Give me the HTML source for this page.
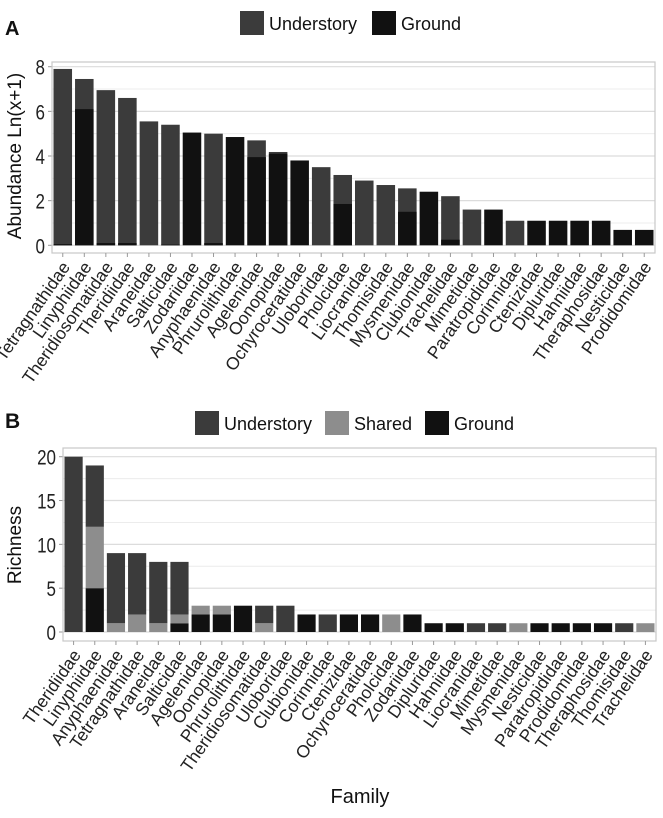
<!DOCTYPE html>
<html><head><meta charset="utf-8"><style>
body{margin:0;background:#fff;}
svg{display:block;font-family:"Liberation Sans",Arial,sans-serif;}
</style></head><body>
<svg id="chart" width="663" height="818" viewBox="0 0 663 818"></svg>
<script>
// Panel A data
const familiesA = ["Tetragnathidae","Linyphiidae","Theridiosomatidae","Theridiidae","Araneidae","Salticidae","Zodariidae","Anyphaenidae","Phrurolithidae","Agelenidae","Oonopidae","Ochyroceratidae","Uloboridae","Pholcidae","Liocranidae","Thomisidae","Mysmenidae","Clubionidae","Trachelidae","Mimetidae","Paratropididae","Corinnidae","Ctenizidae","Dipluridae","Hahniidae","Theraphosidae","Nesticidae","Prodidomidae"];
const understoryA = [7.9,7.45,6.95,6.6,5.55,5.4,0,5.0,0,4.7,4.18,0,3.5,3.15,2.9,2.7,2.55,0,2.2,1.6,0,1.1,0,0,0,0,0,0];
const groundA = [0.05,6.1,0.1,0.1,0,0.03,5.05,0.1,4.85,3.95,4.1,3.8,0,1.85,0,0,1.5,2.4,0.25,0,1.6,0,1.1,1.1,1.1,1.1,0.69,0.69];
const ticksA = [0,2,4,6,8];
// Panel B data
const familiesB = ["Theridiidae","Linyphiidae","Anyphaenidae","Tetragnathidae","Araneidae","Salticidae","Agelenidae","Oonopidae","Phrurolithidae","Theridiosomatidae","Uloboridae","Clubionidae","Corinnidae","Ctenizidae","Ochyroceratidae","Pholcidae","Zodariidae","Dipluridae","Hahniidae","Liocranidae","Mimetidae","Mysmenidae","Nesticidae","Paratropididae","Prodidomidae","Theraphosidae","Thomisidae","Trachelidae"];
const groundB = [0,5,0,0,0,1,2,2,3,0,0,2,0,2,2,0,2,1,1,0,0,0,1,1,1,1,0,0];
const sharedB = [0,7,1,2,1,1,1,1,0,1,0,0,0,0,0,2,0,0,0,0,0,1,0,0,0,0,0,1];
const understoryB = [20,7,8,7,7,6,0,0,0,2,3,0,2,0,0,0,0,0,0,1,1,0,0,0,0,0,1,0];
const ticksB = [0,5,10,15,20];

const C_U="#3b3b3b", C_G="#111111", C_S="#8d8d8d";
const svg=document.getElementById('chart');
const NS="http://www.w3.org/2000/svg";
function mk(tag,attrs,parent){const e=document.createElementNS(NS,tag);for(const k in attrs)e.setAttribute(k,attrs[k]);(parent||svg).appendChild(e);return e;}

function panel(cfg){
  const g=mk('g',{});
  
  
  const {L,R,T,B,y0,yTop,vmax}=cfg;
  const y=v=>y0-(v/vmax)*(y0-yTop);
  const n=cfg.fams.length, step=(R-L)/n;
  const x=i=>L+step*i;
  for(let k=0;k<cfg.ticks.length;k++){
    const v=cfg.ticks[k];
    const gl=mk('line',{x1:L,x2:R,y1:y(v),y2:y(v),stroke:'#dcdcdc','stroke-width':1.2},g);
    
    
    if(k<cfg.ticks.length-1){const mv=(v+cfg.ticks[k+1])/2;
      const m=mk('line',{x1:L,x2:R,y1:y(mv),y2:y(mv),stroke:'#ececec','stroke-width':1},g);
      
      }
    const t=mk('text',{x:0,y:0,'text-anchor':'end','font-size':17,fill:'#222',transform:`translate(${L-7} ${y(v)+8}) scale(1 1.25)`},g);
    t.textContent=v;
    
    
    const tk=mk('line',{x1:L-4,x2:L,y1:y(v),y2:y(v),stroke:'#999'},g);
    
    
  }
  const fr=mk('rect',{x:L,y:T,width:R-L,height:B-T,fill:'none',stroke:'#c8c8c8','stroke-width':1.2},g);
  
  
  for(let i=0;i<n;i++){
    const bx=x(i)+1.5, bw=step-3;
    cfg.draw(g,i,bx,bw,y);
    const cx=x(i)+step/2;
    const tk=mk('line',{x1:cx,x2:cx,y1:B,y2:B+4,stroke:'#999'},g);
    
    
    const ax=cx+8, ay=B+14;
    const t=mk('text',{x:ax,y:ay,'text-anchor':'end','font-size':17.5,fill:'#222',transform:`rotate(-55 ${ax} ${ay})`},g);
    t.textContent=cfg.fams[i];
    
    
  }
}
function bar(g,bx,bw,yA,yB,fill,name){
  if(Math.abs(yA-yB)<0.01)return;
  const r=mk('rect',{x:bx,y:Math.min(yA,yB),width:bw,height:Math.abs(yA-yB),fill:fill},g);
  
  
}
panel({name:'panel-a',L:52,R:655,T:62,B:253,y0:245.3,yTop:66.7,vmax:8,fams:familiesA,ticks:ticksA,
  draw:(g,i,bx,bw,y)=>{
    bar(g,bx,bw,y(0),y(understoryA[i]),C_U,'bar-understory');
    bar(g,bx,bw,y(0),y(groundA[i]),C_G,'bar-ground');
  }});
panel({name:'panel-b',L:63,R:656,T:448,B:641,y0:632,yTop:456.7,vmax:20,fams:familiesB,ticks:ticksB,
  draw:(g,i,bx,bw,y)=>{
    const a=groundB[i],b=a+sharedB[i],c=b+understoryB[i];
    bar(g,bx,bw,y(0),y(a),C_G,'bar-ground');
    bar(g,bx,bw,y(a),y(b),C_S,'bar-shared');
    bar(g,bx,bw,y(b),y(c),C_U,'bar-understory');
  }});

function txt(x,y,s,size,name,extra){const t=mk('text',Object.assign({x:x,y:y,'font-size':size,fill:'#111'},extra||{}));t.textContent=s;return t;}
txt(5,35,'A',20,'panel-label-a',{'font-weight':'bold'});
txt(5,428,'B',21,'panel-label-b',{'font-weight':'bold'});
txt(21,156,'Abundance Ln(x+1)',19,'y-axis-title-a',{'text-anchor':'middle',transform:'rotate(-90 21 156)'});
txt(21,545,'Richness',19,'y-axis-title-b',{'text-anchor':'middle',transform:'rotate(-90 21 545)'});
txt(360,803,'Family',20,'x-axis-title',{'text-anchor':'middle'});

function legend(x,y,color,label){
  const r=mk('rect',{x:x,y:y,width:24,height:24,fill:color});
  
  
  txt(x+29,y+19,label,18,'legend-entry');
}
legend(240,11,C_U,'Understory');
legend(372,11,C_G,'Ground');
legend(195,411,C_U,'Understory');
legend(325,411,C_S,'Shared');
legend(425,411,C_G,'Ground');
</script>
</body></html>
